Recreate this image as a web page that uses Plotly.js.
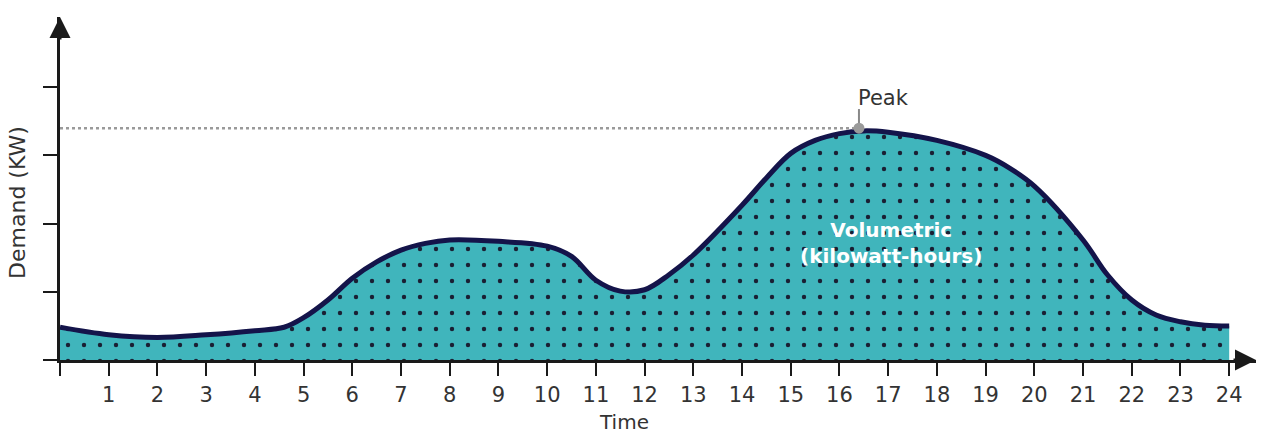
<!DOCTYPE html>
<html>
<head>
<meta charset="utf-8">
<script src="https://cdn.plot.ly/plotly-3.0.1.min.js"></script>
<style>html,body{margin:0;padding:0;background:#fff;}#chart{width:1261px;height:434px;}</style>
</head>
<body>
<div id="chart"></div>
<script>
// Demand curve over the day (relative units, ticks at 1..4)
const hours  = [0, 1, 2, 3, 4, 4.6, 5, 5.5, 6, 6.5, 7, 7.5, 8, 9, 10, 10.5, 11, 11.5, 12, 12.5, 13, 14, 14.5, 15, 15.5, 16, 16.5, 17, 18, 19, 19.5, 20, 21, 21.5, 22, 22.5, 23, 23.5, 24];
const demand = [0.48, 0.37, 0.33, 0.37, 0.43, 0.48, 0.62, 0.88, 1.2, 1.44, 1.61, 1.71, 1.76, 1.74, 1.67, 1.52, 1.17, 1.01, 1.03, 1.25, 1.54, 2.27, 2.67, 3.03, 3.22, 3.32, 3.36, 3.34, 3.22, 3.0, 2.81, 2.55, 1.76, 1.25, 0.88, 0.66, 0.56, 0.51, 0.5];
const peakHour = 16.4;
const peakDemand = 3.4;
const xTickVals = [0,1,2,3,4,5,6,7,8,9,10,11,12,13,14,15,16,17,18,19,20,21,22,23,24];
const xTickText = ['', '1','2','3','4','5','6','7','8','9','10','11','12','13','14','15','16','17','18','19','20','21','22','23','24'];
const yTickVals = [0,1,2,3,4];

const font = '"DejaVu Sans", "Noto Sans", sans-serif';
const textColor = '#333333';

const traces = [
  {
    x: hours, y: demand, type: 'scatter', mode: 'lines',
    line: {color: '#14144a', width: 5, shape: 'spline', smoothing: 1},
    fill: 'tozeroy', fillcolor: '#40b5bc',
    fillpattern: {shape: '.', size: 16, solidity: 0.06, fgcolor: '#1a1f33', bgcolor: '#40b5bc'},
    hoverinfo: 'skip'
  },
  {
    x: [0, peakHour], y: [peakDemand, peakDemand], type: 'scatter', mode: 'lines',
    line: {color: '#9a9a9a', width: 2.5, dash: 'dot'}, hoverinfo: 'skip'
  },
  {
    x: [peakHour, peakHour], y: [peakDemand, peakDemand + 0.28], type: 'scatter', mode: 'lines',
    line: {color: '#888888', width: 2}, hoverinfo: 'skip'
  },
  {
    x: [peakHour], y: [peakDemand], type: 'scatter', mode: 'markers',
    marker: {color: '#9a9a9a', size: 11}, hoverinfo: 'skip'
  }
];

const layout = {
  width: 1261, height: 434,
  margin: {l: 60, r: 5, t: 17, b: 74},
  paper_bgcolor: '#ffffff', plot_bgcolor: '#ffffff',
  showlegend: false,
  font: {family: font, color: textColor, size: 20},
  xaxis: {
    range: [0, 24.55], showgrid: false, zeroline: false,
    showline: true, linecolor: '#1a1a1a', linewidth: 3,
    tickmode: 'array', tickvals: xTickVals, ticktext: xTickText,
    ticks: 'outside', ticklen: 13, tickwidth: 2, tickcolor: '#1a1a1a',
    tickfont: {family: font, size: 21, color: textColor},
    ticklabelstandoff: 1,
    fixedrange: true
  },
  yaxis: {
    range: [0, 5.03], showgrid: false, zeroline: false,
    showline: true, linecolor: '#1a1a1a', linewidth: 3,
    tickmode: 'array', tickvals: yTickVals,
    ticks: 'outside', ticklen: 14, tickwidth: 2, tickcolor: '#1a1a1a',
    showticklabels: false,
    fixedrange: true
  },
  annotations: [
    {xref: 'paper', yref: 'paper', x: 1.0, y: 0, ax: -24, ay: 0, text: '', showarrow: true,
     arrowhead: 2, arrowsize: 1.4, arrowwidth: 3, arrowcolor: '#1a1a1a'},
    {xref: 'paper', yref: 'paper', x: 0, y: 1.0, ax: 0, ay: 24, text: '', showarrow: true,
     arrowhead: 2, arrowsize: 1.4, arrowwidth: 3, arrowcolor: '#1a1a1a'},
    {xref: 'paper', yref: 'paper', x: 0.4716, y: -0.18, xanchor: 'center', yanchor: 'middle',
     text: 'Time', showarrow: false, font: {family: font, size: 20, color: textColor}},
    {xref: 'paper', yref: 'paper', x: -0.0351, y: 0.458, xanchor: 'center', yanchor: 'middle',
     text: 'Demand (KW)', textangle: -90, showarrow: false, font: {family: font, size: 22, color: textColor}},
    {x: peakHour - 0.07, y: peakDemand + 0.44, xanchor: 'left', yanchor: 'middle', text: 'Peak',
     showarrow: false, font: {family: font, size: 21, color: textColor}},
    {x: 17.05, y: 1.72, text: '<b>Volumetric</b><br><b>(kilowatt-hours)</b>', showarrow: false,
     font: {family: font, size: 20, color: '#ffffff'}, align: 'center'}
  ]
};

Plotly.newPlot('chart', traces, layout, {displayModeBar: false, staticPlot: true});
</script>
</body>
</html>
